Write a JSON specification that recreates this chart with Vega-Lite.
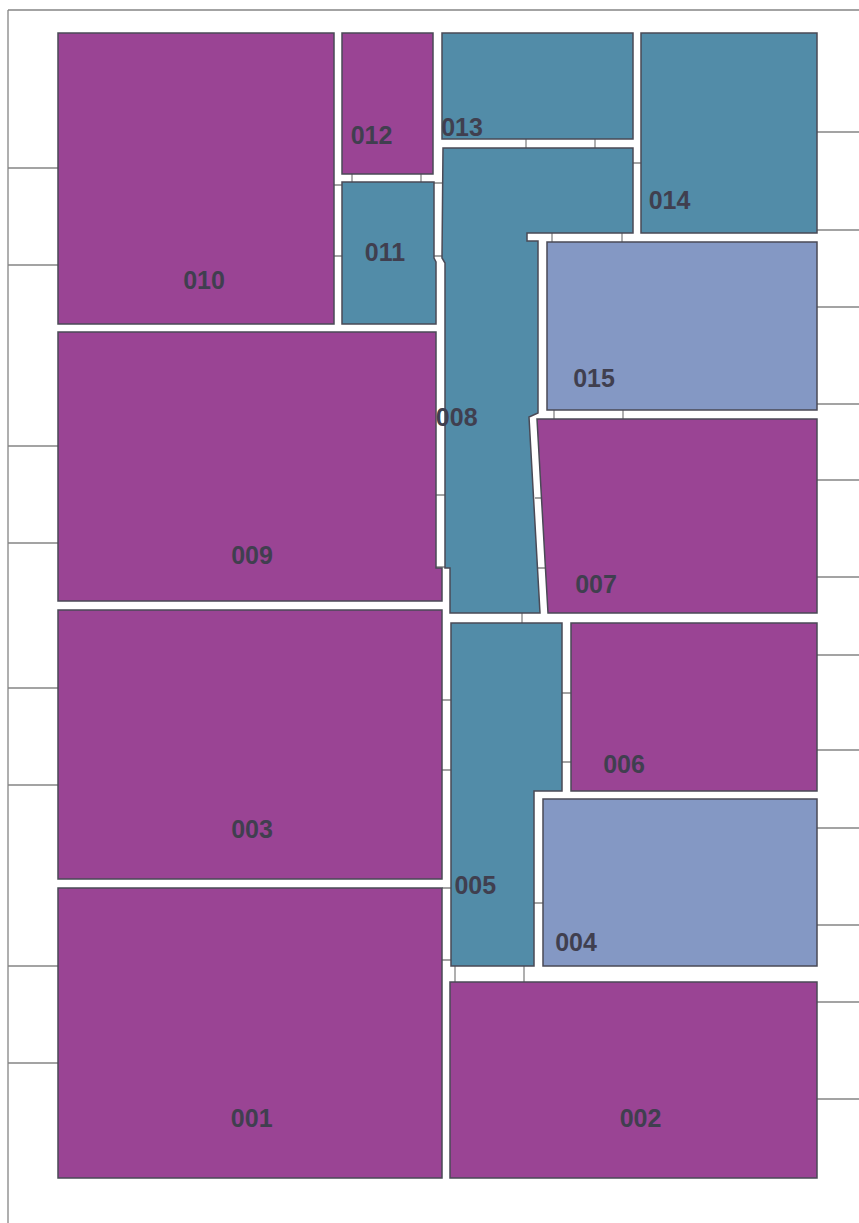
{
  "$schema": "https://vega.github.io/schema/vega-lite/v6.json",
  "width": 859,
  "height": 1223,
  "autosize": {"type": "none"},
  "padding": 0,
  "background": "white",
  "view": {"stroke": null},
  "projection": {"type": "identity", "scale": 1, "translate": [0, 0], "reflectY": false},
  "datasets": {
    "rooms": [
      {"type": "Feature", "properties": {"id": "010", "kind": "A"}, "geometry": {"type": "Polygon", "coordinates": [[[58,33],[334,33],[334,324],[58,324],[58,33]]]}},
      {"type": "Feature", "properties": {"id": "012", "kind": "A"}, "geometry": {"type": "Polygon", "coordinates": [[[342,33],[433,33],[433,174],[342,174],[342,33]]]}},
      {"type": "Feature", "properties": {"id": "011", "kind": "B"}, "geometry": {"type": "Polygon", "coordinates": [[[342,182],[434,182],[434,258],[436,262],[436,324],[342,324],[342,182]]]}},
      {"type": "Feature", "properties": {"id": "013", "kind": "B"}, "geometry": {"type": "Polygon", "coordinates": [[[442,33],[633,33],[633,139],[442,139],[442,33]]]}},
      {"type": "Feature", "properties": {"id": "014", "kind": "B"}, "geometry": {"type": "Polygon", "coordinates": [[[641,33],[817,33],[817,233],[641,233],[641,33]]]}},
      {"type": "Feature", "properties": {"id": "008", "kind": "B"}, "geometry": {"type": "Polygon", "coordinates": [[[443,148],[633,148],[633,233],[527,233],[527,241],[538,241],[538,413],[529,417],[540,613],[450,613],[450,568],[445,568],[445,263],[442,258],[443,148]]]}},
      {"type": "Feature", "properties": {"id": "015", "kind": "C"}, "geometry": {"type": "Polygon", "coordinates": [[[547,242],[817,242],[817,410],[547,410],[547,242]]]}},
      {"type": "Feature", "properties": {"id": "007", "kind": "A"}, "geometry": {"type": "Polygon", "coordinates": [[[537,419],[817,419],[817,613],[548,613],[537,419]]]}},
      {"type": "Feature", "properties": {"id": "009", "kind": "A"}, "geometry": {"type": "Polygon", "coordinates": [[[58,332],[436,332],[436,568],[442,568],[442,601],[58,601],[58,332]]]}},
      {"type": "Feature", "properties": {"id": "003", "kind": "A"}, "geometry": {"type": "Polygon", "coordinates": [[[58,610],[442,610],[442,879],[58,879],[58,610]]]}},
      {"type": "Feature", "properties": {"id": "005", "kind": "B"}, "geometry": {"type": "Polygon", "coordinates": [[[451,623],[562,623],[562,791],[534,791],[534,966],[451,966],[451,623]]]}},
      {"type": "Feature", "properties": {"id": "006", "kind": "A"}, "geometry": {"type": "Polygon", "coordinates": [[[571,623],[817,623],[817,791],[571,791],[571,623]]]}},
      {"type": "Feature", "properties": {"id": "004", "kind": "C"}, "geometry": {"type": "Polygon", "coordinates": [[[543,799],[817,799],[817,966],[543,966],[543,799]]]}},
      {"type": "Feature", "properties": {"id": "001", "kind": "A"}, "geometry": {"type": "Polygon", "coordinates": [[[58,888],[442,888],[442,1178],[58,1178],[58,888]]]}},
      {"type": "Feature", "properties": {"id": "002", "kind": "A"}, "geometry": {"type": "Polygon", "coordinates": [[[450,982],[817,982],[817,1178],[450,1178],[450,982]]]}}
    ],
    "walls": [
      {"type": "Feature", "properties": {"part": "frame"}, "geometry": {"type": "MultiLineString", "coordinates": [
        [[8,10],[859,10]], [[8,10],[8,1223]],
        [[8,168],[58,168]], [[8,265],[58,265]], [[8,446],[58,446]], [[8,543],[58,543]],
        [[8,688],[58,688]], [[8,785],[58,785]], [[8,966],[58,966]], [[8,1063],[58,1063]],
        [[817,132],[859,132]], [[817,230],[859,230]], [[817,307],[859,307]], [[817,404],[859,404]],
        [[817,480],[859,480]], [[817,577],[859,577]], [[817,655],[859,655]], [[817,750],[859,750]],
        [[817,828],[859,828]], [[817,925],[859,925]], [[817,1002],[859,1002]], [[817,1099],[859,1099]]
      ]}},
      {"type": "Feature", "properties": {"part": "inner"}, "geometry": {"type": "MultiLineString", "coordinates": [
        [[334,185],[342,185]], [[334,256],[342,256]],
        [[352,174],[352,182]], [[421,174],[421,182]],
        [[434,183],[443,183]], [[434,256],[443,256]],
        [[526,139],[526,148]], [[595,139],[595,148]],
        [[633,163],[641,163]],
        [[552,233],[552,242]], [[622,233],[622,242]],
        [[554,410],[554,419]], [[623,410],[623,419]],
        [[436,495],[445,495]], [[436,567],[445,567]],
        [[535,498],[542,498]], [[538,568],[546,568]],
        [[522,613],[522,623]],
        [[442,700],[451,700]], [[442,770],[451,770]],
        [[562,693],[571,693]], [[562,762],[571,762]],
        [[534,903],[543,903]],
        [[442,888],[451,888]], [[442,960],[451,960]],
        [[455,966],[455,982]], [[524,966],[524,982]]
      ]}}
    ],
    "labels": [
      {"id": "010", "x": 204, "y": 289},
      {"id": "012", "x": 371.5, "y": 144},
      {"id": "013", "x": 462, "y": 136},
      {"id": "011", "x": 385, "y": 261},
      {"id": "014", "x": 669.5, "y": 209},
      {"id": "015", "x": 594, "y": 386.5},
      {"id": "008", "x": 456.7, "y": 425.5},
      {"id": "009", "x": 252, "y": 564},
      {"id": "007", "x": 596, "y": 593},
      {"id": "006", "x": 624, "y": 773},
      {"id": "003", "x": 252, "y": 838},
      {"id": "005", "x": 475.3, "y": 894},
      {"id": "004", "x": 576, "y": 950.5},
      {"id": "001", "x": 251.7, "y": 1127},
      {"id": "002", "x": 640.5, "y": 1127}
    ]
  },
  "layer": [
    {
      "data": {"name": "walls"},
      "mark": {"type": "geoshape", "filled": false, "stroke": "#858585", "strokeWidth": 1.3},
      "encoding": {}
    },
    {
      "data": {"name": "rooms"},
      "mark": {"type": "geoshape", "stroke": "#4a4a56", "strokeWidth": 1.5, "strokeJoin": "miter"},
      "encoding": {
        "color": {
          "field": "properties.kind",
          "type": "nominal",
          "scale": {"domain": ["A", "B", "C"], "range": ["#9a4494", "#528ca8", "#8498c4"]},
          "legend": null
        }
      }
    },
    {
      "data": {"name": "labels"},
      "mark": {"type": "text", "font": "Liberation Sans", "fontWeight": "bold", "fontSize": 25, "color": "#403f4f", "align": "center", "baseline": "alphabetic"},
      "encoding": {
        "longitude": {"field": "x", "type": "quantitative"},
        "latitude": {"field": "y", "type": "quantitative"},
        "text": {"field": "id", "type": "nominal"}
      }
    }
  ]
}
